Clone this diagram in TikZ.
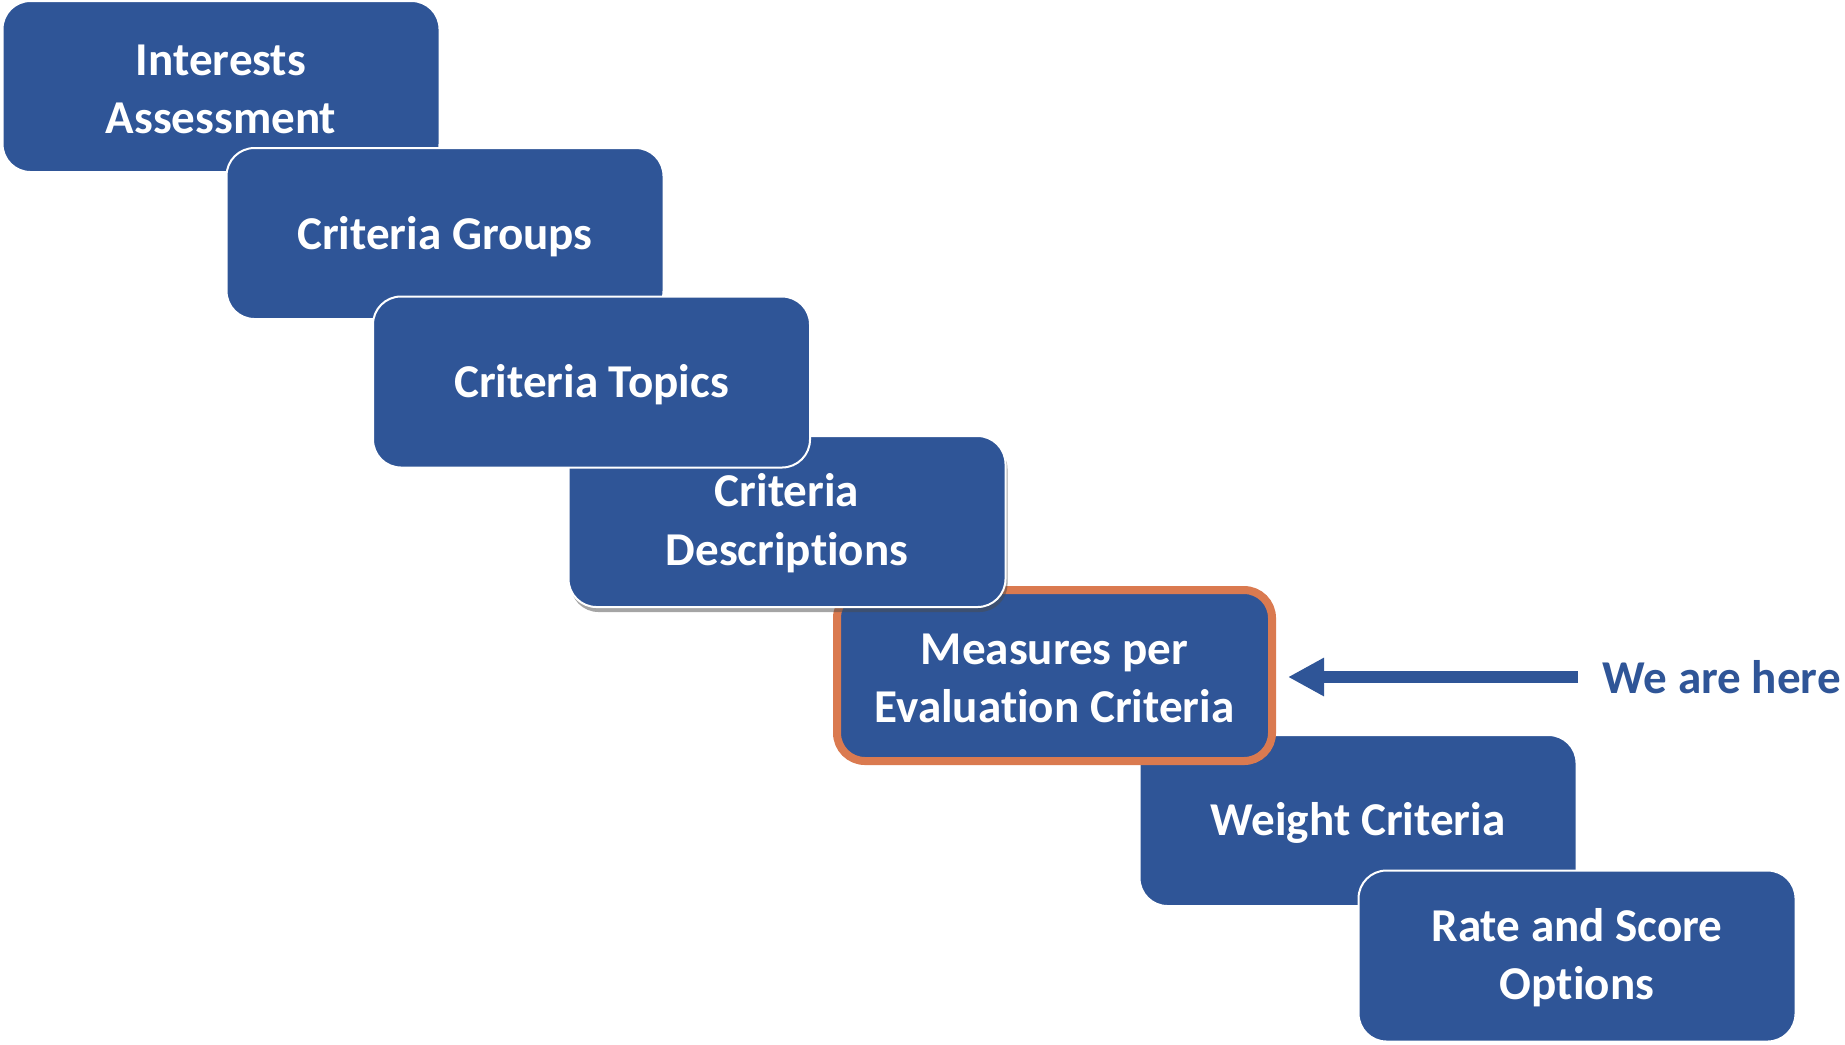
\documentclass[tikz,border=0pt]{standalone}
\usepackage{fontspec}
\setmainfont{Carlito}[Ligatures={NoCommon,NoContextual}, RawFeature={-liga;-calt}]
\usetikzlibrary{arrows.meta,shadows}
\definecolor{stepblue}{HTML}{2F5597}
\definecolor{steporange}{HTML}{DA7A50}
\begin{document}
\begin{tikzpicture}[every node/.style={font=\fontsize{13.4}{16.6}\selectfont\bfseries},
                    stepbox/.style={fill=stepblue, draw=white, line width=0.02cm, rounded corners=0.28cm,
                        text=white, align=center, minimum width=4.37cm, minimum height=1.71cm, inner sep=0pt,
                        execute at begin node={\rule{0pt}{11pt}}},
                    twoline/.style={execute at begin node={\rule{0pt}{27pt}}}]
                    \useasboundingbox (0,0) rectangle (18.45,-10.44);

                    % First steps, each one on top of the last
                    \node[stepbox, twoline] (interests) at (2.21,-0.865) {Interests\\Assessment};
                    \node[stepbox] (groups) at (4.45,-2.335) {Criteria Groups};

                    % Lower steps, drawn from the bottom up
                    \node[stepbox] (weight) at (13.58,-8.205) {Weight Criteria};
                    \node[stepbox, twoline, draw=steporange, line width=0.08cm, minimum width=4.35cm] (measures) at (10.545,-6.755) {Measures per\\Evaluation Criteria};
                    \node[stepbox, twoline, drop shadow={shadow xshift=0.02cm, shadow yshift=-0.05cm, opacity=0.5, fill=black!70}] (descr) at (7.87,-5.215) {Criteria\\Descriptions};
                    \node[stepbox] (topics) at (5.915,-3.82) {Criteria Topics};
                    \node[stepbox, twoline] (rate) at (15.77,-9.56) {Rate and Score\\Options};

                    % Where we are
                    \node[text=stepblue, inner sep=0pt, anchor=west] (here) at (16.02,-6.77) {We are here};
                    \draw[stepblue, line width=0.12cm, -{Triangle[length=0.36cm,width=0.36cm]},
                        shorten <=0.24cm, shorten >=0.12cm] (here.west) -- (here.west -| measures.east);
                \end{tikzpicture}
\end{document}
